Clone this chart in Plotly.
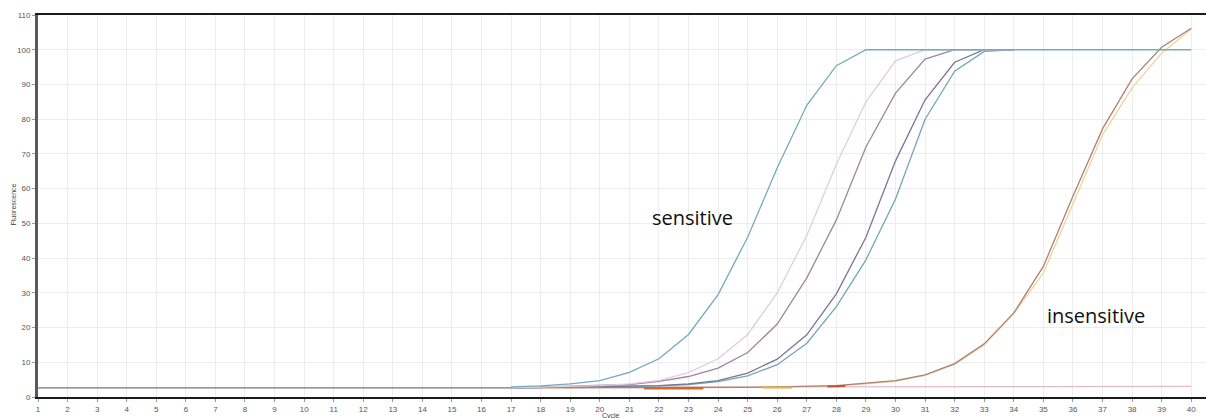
import plotly.graph_objects as go

# ---------------- data ----------------
baseline_cycles = [1, 5, 10, 15, 17]
baseline_values = [2.6, 2.6, 2.6, 2.6, 2.6]

cycles = list(range(17, 41))
curve_a = [2.9, 3.2, 3.8, 4.7, 7.1, 11.0, 18.0, 29.5, 46.0, 66.0, 84.0, 95.4, 100, 100,
           100, 100, 100, 100, 100, 100, 100, 100, 100, 100]
curve_b = [2.6, 2.8, 3.0, 3.3, 3.8, 4.8, 7.0, 11.0, 18.0, 30.0, 46.5, 67.0, 85.0, 96.8,
           100, 100, 100, 100]
curve_c = [2.6, 2.8, 3.0, 3.2, 3.6, 4.5, 5.9, 8.3, 12.8, 21.0, 34.3, 51.0, 72.0, 87.5,
           97.3, 100, 100, 100]
curve_d = [2.6, 2.7, 2.8, 2.9, 3.1, 3.3, 3.8, 4.7, 6.9, 10.9, 17.9, 29.7, 46.0, 68.0,
           85.6, 96.4, 100, 100]
curve_e = [2.6, 2.7, 2.8, 2.9, 3.0, 3.2, 3.6, 4.4, 6.1, 9.3, 15.5, 26.0, 39.5, 57.0,
           80.0, 93.8, 99.5, 100]
curve_f = [2.6, 2.6, 2.6, 2.6, 2.6, 2.6, 2.6, 2.7, 2.8, 2.9, 3.0, 3.3, 4.0, 4.7,
           6.4, 9.6, 15.3, 24.2, 37.6, 57.8, 77.2, 91.6, 100.7, 106.2]
curve_g = [2.6, 2.6, 2.6, 2.6, 2.6, 2.6, 2.6, 2.7, 2.8, 2.9, 3.0, 3.2, 3.8, 4.5,
           6.2, 9.4, 15.0, 24.0, 35.7, 55.4, 75.5, 89.0, 99.0, 106.0]
flat_cycles = [19.5, 32.5, 32.6, 40]
flat_values = [2.9, 2.95, 3.05, 3.05]

seg1_cycles = [21.5, 23.5]
seg1_values = [2.5, 2.5]
seg2_cycles = [25.5, 26.5]
seg2_values = [2.7, 2.7]
seg3_cycles = [27.7, 28.3]
seg3_values = [3.0, 3.2]

y_ticks = [0, 10, 20, 30, 40, 50, 60, 70, 80, 90, 100, 110]
x_ticks = list(range(1, 41))

# ---------------- figure ----------------
fig = go.Figure()

def line(x, y, color, width=1.3):
    fig.add_trace(go.Scatter(x=x, y=y, mode="lines",
                             line=dict(color=color, width=width),
                             hoverinfo="skip", showlegend=False))

line(flat_cycles, flat_values, "#e4b9c8", 1.2)
line(cycles, curve_g, "#efd39a", 1.3)
line(cycles, curve_f, "#ad8078", 1.3)
line(cycles[:len(curve_e)], curve_e, "#72a7b6", 1.3)
line(cycles[:len(curve_d)], curve_d, "#7a7592", 1.3)
line(cycles[:len(curve_c)], curve_c, "#a084a2", 1.3)
line(cycles[:len(curve_b)], curve_b, "#e4cbe0", 1.3)
line(cycles, curve_a, "#74abbb", 1.3)
line(baseline_cycles, baseline_values, "#72728a", 1.3)
line(seg1_cycles, seg1_values, "#d0692a", 2.5)
line(seg2_cycles, seg2_values, "#e6b54a", 2.0)
line(seg3_cycles, seg3_values, "#cc5030", 2.0)

fig.add_annotation(x=21.68, y=51.6, text="sensitive", showarrow=False,
                   xanchor="left", yanchor="middle",
                   font=dict(family="Open Sans", size=20, color="#111"))
fig.add_annotation(x=35.07, y=23.4, text="insensitive", showarrow=False,
                   xanchor="left", yanchor="middle",
                   font=dict(family="Open Sans", size=20, color="#111"))
fig.add_annotation(x=0.491, y=-0.05, xref="paper", yref="paper", text="Cycle",
                   showarrow=False, xanchor="center", yanchor="middle",
                   font=dict(family="Liberation Sans", size=7, color="#444"))
fig.add_annotation(x=-0.0208, y=0.503, xref="paper", yref="paper", text="Fluorescence",
                   showarrow=False, textangle=-90, xanchor="center", yanchor="middle",
                   font=dict(family="Liberation Sans", size=7, color="#444"))

fig.update_layout(
    width=1206, height=418,
    margin=dict(l=38, r=0, t=15, b=21),
    paper_bgcolor="white", plot_bgcolor="white",
    showlegend=False,
    xaxis=dict(range=[1, 40.5], tickmode="array", tickvals=x_ticks,
               ticktext=[str(v) for v in x_ticks],
               showgrid=True, gridcolor="#ededed", gridwidth=1,
               showline=True, linecolor="#1a1a1a", linewidth=2, mirror=True,
               ticks="outside", ticklen=3, tickcolor="#999",
               tickfont=dict(family="Liberation Sans", size=8, color="#555"),
               zeroline=False),
    yaxis=dict(range=[0, 110], tickmode="array", tickvals=y_ticks,
               ticktext=[str(v) for v in y_ticks],
               showgrid=True, gridcolor="#ededed", gridwidth=1,
               showline=True, linecolor="#5a5a5a", linewidth=3,
               ticks="outside", ticklen=3, tickcolor="#999",
               tickfont=dict(family="Liberation Sans", size=8, color="#555"),
               zeroline=False),
)

fig.write_html("out.html")
